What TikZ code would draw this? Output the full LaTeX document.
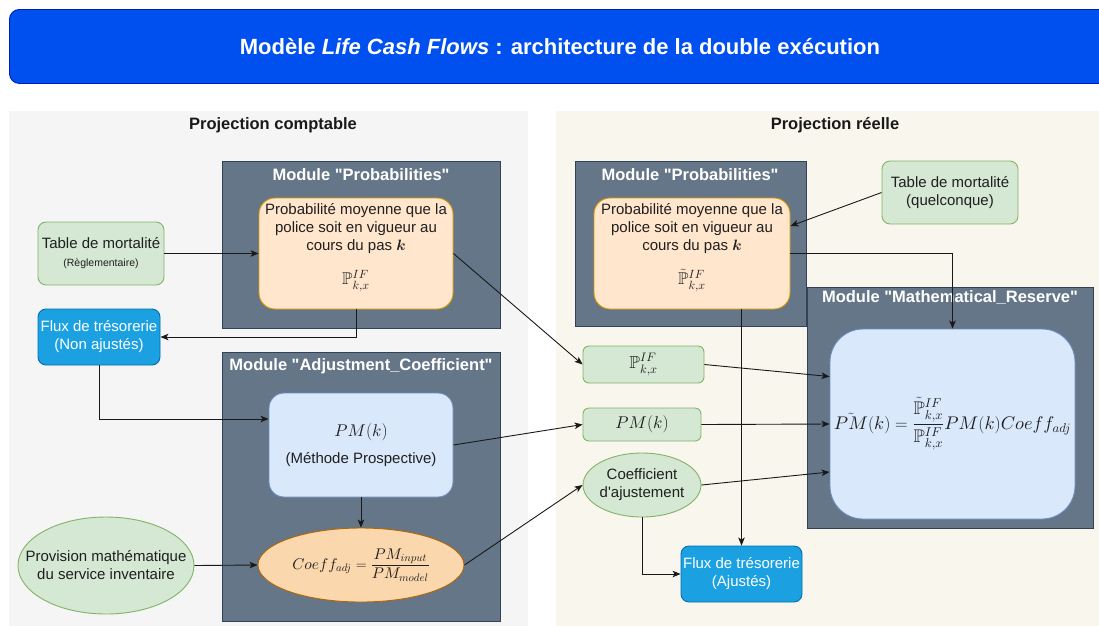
\documentclass[tikz,border=0pt]{standalone}
\usepackage{amsmath,amssymb}
\usepackage{fontspec}
\setmainfont{Liberation Sans}
\DeclareFontShape{OML}{cmm}{m}{it}{<->cmmi10}{}
\DeclareFontShape{OML}{cmm}{b}{it}{<->cmmib10}{}
\DeclareFontFamily{U}{msb}{}
\DeclareFontShape{U}{msb}{m}{n}{<->msbm10}{}
\usetikzlibrary{arrows.meta,shapes.geometric,calc}
\definecolor{titlefill}{HTML}{0050EF}
\definecolor{titleline}{HTML}{001DBC}
\definecolor{panelL}{HTML}{F5F5F5}
\definecolor{panelR}{HTML}{F9F7ED}
\definecolor{modfill}{HTML}{647687}
\definecolor{modline}{HTML}{314354}
\definecolor{orfill}{HTML}{FFE6CC}
\definecolor{orline}{HTML}{D79B00}
\definecolor{grfill}{HTML}{D5E8D4}
\definecolor{grline}{HTML}{82B366}
\definecolor{blfill}{HTML}{1BA1E2}
\definecolor{blline}{HTML}{006EAF}
\definecolor{lbfill}{HTML}{DAE8FC}
\definecolor{lbline}{HTML}{6C8EBF}
\definecolor{cofill}{HTML}{FAD7AC}
\definecolor{coline}{HTML}{B46504}
\definecolor{txt}{HTML}{1F1F1F}
\newcommand{\qq}{\textquotedbl}
\begin{document}
\begin{tikzpicture}[x=1pt,y=-1pt,
  base/.style={inner sep=0pt, align=center, line width=0.9pt, text=txt},
  panel/.style={base, draw=none, anchor=north west},
  module/.style={base, fill=modfill, draw=modline},
  modtitle/.style={inner sep=0pt, text=white, font=\fontsize{16.5}{19}\selectfont\bfseries},
  ptitle/.style={inner sep=0pt, text=black!90, font=\fontsize{16.5}{19}\selectfont\bfseries},
  body/.style={font=\fontsize{15}{18}\selectfont},
  label/.style={inner sep=0pt, align=center, text=txt, body},
  orbox/.style={base, fill=orfill, draw=orline, rounded corners=16pt},
  grbox/.style={base, body, fill=grfill, draw=grline, rounded corners=8pt},
  grell/.style={base, ellipse, fill=grfill, draw=grline},
  flux/.style={base, body, fill=blfill, draw=blline, rounded corners=8pt, text=white},
  lbbox/.style={base, body, fill=lbfill, draw=lbline},
  arr/.style={-{Stealth[length=8pt,width=6.5pt,inset=2pt]}, line width=0.9pt, draw=black!90},
]
\useasboundingbox (0,0) rectangle (1099,625);
\fill[white] (0,0) rectangle (1099,625);

% title
\node[base, fill=titlefill, draw=titleline, rounded corners=10pt, minimum width=1110pt, minimum height=74pt, anchor=north west,
  text=white, font=\fontsize{22}{26}\selectfont\bfseries] (title) at (9,9)
  {\hspace*{-9pt}Modèle \textit{Life Cash Flows} : architecture de la double exécution};

% panels
\node[panel, fill=panelL, minimum width=519pt, minimum height=520pt] (pL) at (9,111) {};
\node[panel, fill=panelR, minimum width=560pt, minimum height=520pt] (pR) at (556,111) {};
\node[ptitle] (pLt) at (273,125) {Projection comptable};
\node[ptitle] (pRt) at (835,125) {Projection réelle};

% ---- left side
\node[module, minimum width=278pt, minimum height=167pt] (modP1) at (361,244.5) {};
\node[modtitle] (modP1t) at (361,175) {Module \qq Probabilities\qq};
\node[orbox, minimum width=194pt, minimum height=111pt] (prob1) at (356,253.5) {};
\node[label] (prob1t) at (356,229)
  {Probabilité moyenne que la\\police soit en vigueur au\\cours du pas $\boldsymbol{k}$};
\node[label, font=\fontsize{17}{20}\selectfont] (prob1m) at (356,281) {$\mathbb{P}_{k,x}^{IF}$};

\node[grbox, minimum width=126pt, minimum height=63pt] (table1) at (101,253.5)
  {\fontsize{15}{17}\selectfont Table de mortalité\\[0pt]\fontsize{10.5}{12}\selectfont (Règlementaire)};
\node[flux, minimum width=122pt, minimum height=56pt] (flux1) at (99,337) {Flux de trésorerie\\(Non ajustés)};

\node[module, minimum width=278pt, minimum height=269pt] (modA) at (361,486.5) {};
\node[modtitle] (modAt) at (361,366) {Module \qq Adjustment\_Coefficient\qq};
\node[lbbox, rounded corners=15pt, minimum width=184pt, minimum height=104pt] (pm1) at (361,445)
  {\fontsize{17}{20}\selectfont$PM(k)$\\[9pt](Méthode Prospective)};
\node[base, ellipse, fill=cofill, draw=coline, minimum width=206pt, minimum height=74pt] (coeff1) at (361,565) {};
\node[label, font=\fontsize{15.5}{18}\selectfont] (coeff1t) at (361,565)
  {$\displaystyle Coeff_{adj}=\frac{PM_{input}}{PM_{model}}$};
\node[grell, minimum width=176pt, minimum height=97pt] (prov) at (106,565.5) {};
\node[label] (provt) at (106,565.5) {Provision mathématique\\du service inventaire};

% ---- right side
\node[module, minimum width=231pt, minimum height=165pt] (modP2) at (690.5,243.5) {};
\node[modtitle] (modP2t) at (690,175) {Module \qq Probabilities\qq};
\node[orbox, minimum width=196pt, minimum height=111pt] (prob2) at (692,253.5) {};
\node[label] (prob2t) at (692,229)
  {Probabilité moyenne que la\\police soit en vigueur au\\cours du pas $\boldsymbol{k}$};
\node[label, font=\fontsize{17}{20}\selectfont] (prob2m) at (692,280) {$\tilde{\mathbb{P}}_{k,x}^{IF}$};

\node[grbox, minimum width=136pt, minimum height=63pt] (table2) at (950,192.5) {Table de mortalité\\(quelconque)};

\node[module, minimum width=286pt, minimum height=241pt] (modR) at (950,407.5) {};
\node[modtitle] (modRt) at (950,298) {Module \qq Mathematical\_Reserve\qq};
\node[lbbox, rounded corners=33pt, minimum width=245pt, minimum height=190pt] (res) at (952.5,424) {};
\node[label, font=\fontsize{18.3}{22}\selectfont] (rest) at (952.5,424)
  {$\displaystyle \tilde{PM}(k)=\frac{\tilde{\mathbb{P}}_{k,x}^{IF}}{\mathbb{P}_{k,x}^{IF}}PM(k)Coeff_{adj}$};

\node[grbox, rounded corners=6pt, minimum width=121pt, minimum height=37pt, font=\fontsize{17.5}{20}\selectfont] (pbox) at (643.5,364.5) {$\mathbb{P}_{k,x}^{IF}$};
\node[grbox, rounded corners=6pt, minimum width=118pt, minimum height=33pt, font=\fontsize{17}{20}\selectfont] (pmbox) at (642,424.5) {$PM(k)$};
\node[grell, minimum width=118pt, minimum height=64pt] (coeff2) at (642,485) {};
\node[label] (coeff2t) at (642,485) {Coefficient\\d\textquotesingle ajustement};
\node[flux, minimum width=121pt, minimum height=56pt] (flux2) at (741.5,574) {Flux de trésorerie\\(Ajustés)};

% ---- connectors
\draw[arr] (table1.east) -- (prob1.west);
\draw[arr] (prob1.south) |- (flux1.east);
\draw[arr] (flux1.south) |- ([yshift=26pt]pm1.west);
\draw[arr] (pm1.south) -- (coeff1.north);
\draw[arr] (prov.east) -- (coeff1.west);
\draw[arr] (prob1.east) -- (pbox.west);
\draw[arr] (pm1.east) -- (pmbox.west);
\draw[arr] (coeff1.east) -- (coeff2.west);
\draw[arr] (table2.west) -- ([yshift=27.5pt]prob2.east);
\draw[arr] (prob2.east) -| (res.north);
\draw[arr] (prob2.south -| flux2.north) -- (flux2.north);
\draw[arr] (coeff2.south) |- (flux2.west);
\draw[arr] (pbox.east) -- ([yshift=47.5pt]res.west);
\draw[arr] (pmbox.east) -- (res.west);
\draw[arr] (coeff2.east) -- ([yshift=-48pt]res.west);
\end{tikzpicture}
\end{document}
